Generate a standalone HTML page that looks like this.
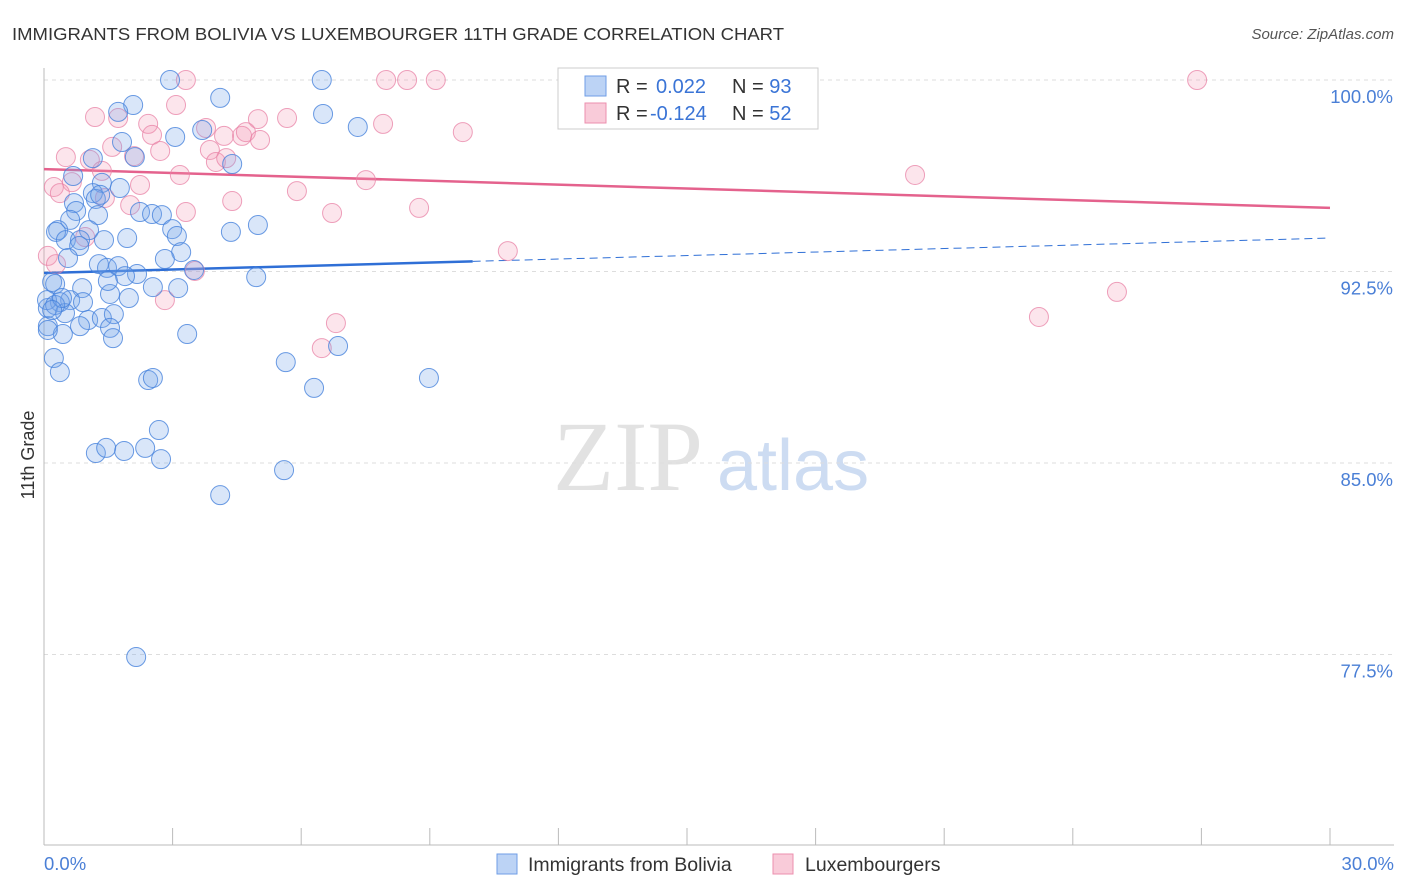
<!DOCTYPE html>
<html><head><meta charset="utf-8"><style>
body{margin:0;background:#fff;}
svg{display:block;font-family:"Liberation Sans",sans-serif;}
</style></head><body>
<svg id="chart" width="1406" height="892" viewBox="0 0 1406 892">
<text x="12" y="40" font-size="17.5" fill="#333" textLength="772" lengthAdjust="spacingAndGlyphs">IMMIGRANTS FROM BOLIVIA VS LUXEMBOURGER 11TH GRADE CORRELATION CHART</text>
<text x="1394" y="39" font-size="15" fill="#555" font-style="italic" text-anchor="end">Source: ZipAtlas.com</text>
<g>
<text x="553" y="490" font-family="Liberation Serif,serif" font-size="100" fill="#e2e2e2">ZIP</text>
<text x="717" y="490" font-size="72" fill="#cddcf2">atlas</text>
</g>
<g id="grid"></g>
<g id="axes"></g>
<text transform="translate(34,455) rotate(-90)" font-size="18" fill="#333" text-anchor="middle">11th Grade</text>
<g id="trends"></g>
<g id="points"></g>
<g>
<rect x="558" y="68" width="260" height="61" fill="#fff" stroke="#ccc"/>
<rect x="585" y="76" width="21" height="20" fill="#bcd3f5" stroke="#6f9ee6"/>
<text x="616" y="93" font-size="20" fill="#333">R = <tspan fill="#3a74d6" x="656">0.022</tspan><tspan x="732">N = </tspan><tspan fill="#3a74d6">93</tspan></text>
<rect x="585" y="103" width="21" height="20" fill="#f9cbd9" stroke="#ec8fae"/>
<text x="616" y="120" font-size="20" fill="#333">R = <tspan fill="#3a74d6" x="650">-0.124</tspan><tspan x="732">N = </tspan><tspan fill="#3a74d6">52</tspan></text>
</g>
<g>
<rect x="497" y="854" width="20" height="20" fill="#bcd3f5" stroke="#6f9ee6"/>
<text x="528" y="871" font-size="19.5" fill="#333">Immigrants from Bolivia</text>
<rect x="773" y="854" width="20" height="20" fill="#f9cbd9" stroke="#ec8fae"/>
<text x="805" y="871" font-size="19.5" fill="#333">Luxembourgers</text>
</g>
</svg>
<script>
const yTicks=[100,92.5,85,77.5];
const yTickLabels=["100.0%","92.5%","85.0%","77.5%"];
const xLabels=["0.0%","30.0%"];
const blueX=[2.94,6.48,4.11,2.08,1.73,6.51,3.06,3.69,7.32,1.82,1.14,2.12,4.39,0.68,1.35,1.77,1.14,0.70,1.21,1.31,0.75,1.26,2.24,2.52,2.75,0.61,0.33,0.28,1.05,2.99,4.36,4.99,3.10,0.51,0.84,1.40,1.94,0.82,3.20,2.82,0.56,1.28,1.47,1.73,2.17,1.89,3.50,4.95,0.19,0.26,0.89,2.54,3.13,1.54,1.98,0.61,0.37,0.91,0.09,0.49,1.03,1.35,1.63,0.84,0.09,1.54,0.44,1.61,3.34,0.23,0.37,5.64,6.86,6.30,2.43,2.54,8.98,2.68,1.21,1.45,1.87,2.36,2.73,5.60,4.11,2.15,0.09,0.07,0.26,0.42,0.19,1.49];
const blueY=[100,100,99.30,99.02,98.75,98.67,97.77,98.04,98.16,97.57,96.94,96.98,96.71,96.24,95.97,95.77,95.57,95.18,95.34,95.50,94.87,94.71,94.83,94.75,94.71,94.52,94.12,94.05,94.12,94.16,94.05,94.32,93.89,93.73,93.73,93.73,93.81,93.50,93.26,92.99,93.03,92.79,92.64,92.71,92.40,92.32,92.56,92.28,92.09,92.01,91.85,91.89,91.85,91.62,91.46,91.38,91.30,91.30,91.07,90.87,90.60,90.68,90.83,90.36,90.36,90.29,90.05,89.89,90.05,89.11,88.56,88.95,89.58,87.94,88.25,88.33,88.33,86.29,85.39,85.59,85.47,85.59,85.15,84.72,83.74,77.40,90.21,91.38,91.19,91.46,90.99,92.13];
const pinkX=[3.31,7.98,8.47,9.14,26.90,3.08,1.19,1.73,2.43,7.91,3.78,4.99,5.67,9.77,2.52,4.20,4.62,4.71,5.04,3.87,0.51,2.71,1.59,2.10,4.01,4.25,1.07,1.35,3.17,0.65,7.51,20.32,0.23,2.24,5.90,0.37,1.42,2.01,4.39,6.72,3.31,8.75,0.96,0.09,0.28,3.52,2.82,6.81,6.48,10.82,25.03,23.21];
const pinkY=[100,100,100,100,100,99.02,98.55,98.51,98.28,98.28,98.12,98.47,98.51,97.96,97.85,97.81,97.81,97.96,97.65,97.26,96.98,97.22,97.38,97.02,96.79,96.94,96.87,96.44,96.28,96.00,96.08,96.28,95.81,95.89,95.65,95.57,95.38,95.10,95.26,94.79,94.83,94.99,93.85,93.11,92.79,92.52,91.38,90.48,89.50,93.30,91.70,90.72];
const blueTrend=[92.44,93.81];
const pinkTrend=[96.51,94.99];

const NS="http://www.w3.org/2000/svg";
const X0=44,X1=1330,Y0=845;
function sx(v){return X0+(v/30)*(X1-X0);}
function sy(v){return 80+(100-v)/7.5*191.5;}
function mk(tag,attrs,parent){const e=document.createElementNS(NS,tag);for(const k in attrs)e.setAttribute(k,attrs[k]);parent.appendChild(e);return e;}
const grid=document.getElementById('grid'),axes=document.getElementById('axes');
yTicks.forEach((t,i)=>{
  const l=mk('line',{x1:X0,x2:1394,y1:sy(t),y2:sy(t),stroke:'#ddd','stroke-dasharray':'4,4'},grid);
  
  
  const tx=mk('text',{x:1393,y:sy(t)+23,'font-size':18.5,fill:'#4a7fd6','text-anchor':'end'},axes);
  tx.textContent=yTickLabels[i];
  
  
});
const ax=mk('line',{x1:X0,x2:X0,y1:68,y2:Y0,stroke:'#bbb'},axes);


const bx=mk('line',{x1:X0,x2:1394,y1:Y0,y2:Y0,stroke:'#bbb'},axes);


for(let i=0;i<=10;i++){
  const t=mk('line',{x1:sx(i*3),x2:sx(i*3),y1:828,y2:Y0,stroke:'#bbb'},axes);
  
  
}
const xl0=mk('text',{x:44,y:870,'font-size':18.5,fill:'#4a7fd6'},axes);xl0.textContent=xLabels[0];


const xl1=mk('text',{x:1394,y:870,'font-size':18.5,fill:'#4a7fd6','text-anchor':'end'},axes);xl1.textContent=xLabels[1];



const pts=document.getElementById('points');
function dots(xs,ys,fill,stroke,name){xs.forEach((x,i)=>{
  const c=mk('circle',{cx:sx(x),cy:sy(ys[i]),r:9.5,fill:fill,stroke:stroke,'stroke-width':1},pts);
  
  
});}
dots(pinkX,pinkY,'rgba(242,150,180,0.25)','rgba(232,130,165,0.75)','luxembourger-point');
dots(blueX,blueY,'rgba(120,165,235,0.28)','rgba(70,130,220,0.8)','bolivia-point');

const tr=document.getElementById('trends');
function lineAt(a,b,x){return a+(b-a)*x/30;}
const b1=mk('line',{x1:sx(0),y1:sy(blueTrend[0]),x2:sx(10),y2:sy(lineAt(blueTrend[0],blueTrend[1],10)),stroke:'#2f6fd6','stroke-width':2.5},tr);


const b2=mk('line',{x1:sx(10),y1:sy(lineAt(blueTrend[0],blueTrend[1],10)),x2:sx(30),y2:sy(blueTrend[1]),stroke:'#2f6fd6','stroke-width':1,'stroke-dasharray':'8,5'},tr);


const p1=mk('line',{x1:sx(0),y1:sy(pinkTrend[0]),x2:sx(30),y2:sy(pinkTrend[1]),stroke:'#e4628d','stroke-width':2.5},tr);


</script>
</body></html>
